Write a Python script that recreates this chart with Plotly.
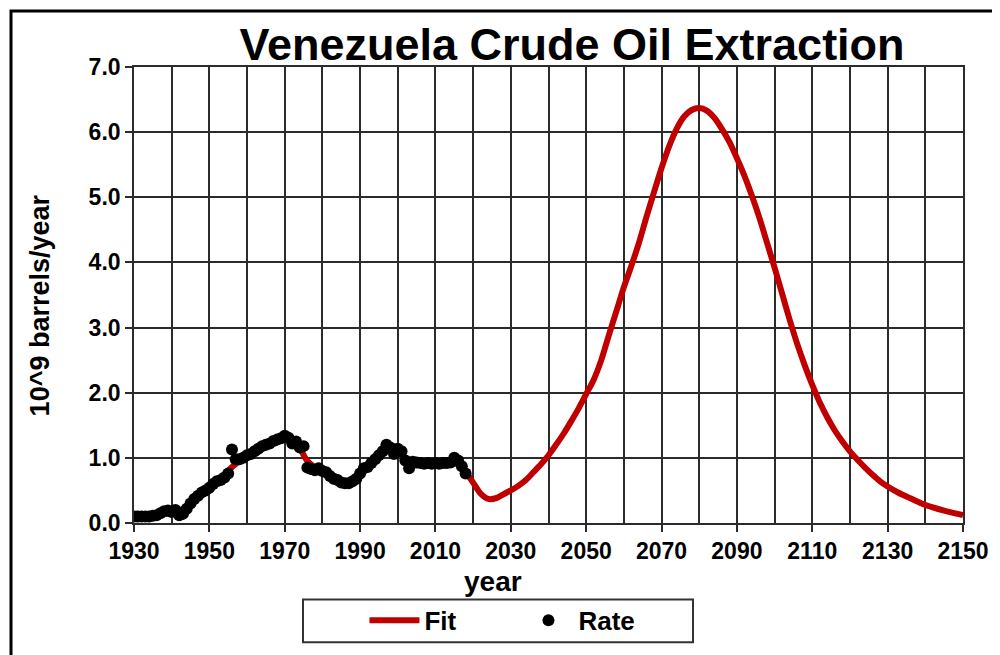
import plotly.graph_objects as go

# Observed extraction rate (10^9 barrels/year)
rate_years = list(range(1930, 2019))
rate_values = [
    0.10, 0.10, 0.10, 0.10, 0.10, 0.11, 0.12, 0.15, 0.18, 0.19,  # 1930-1939
    0.17, 0.20, 0.12, 0.14, 0.22, 0.30, 0.37, 0.42, 0.47, 0.50,  # 1940-1949
    0.54, 0.60, 0.64, 0.66, 0.70, 0.76, 1.13, 0.98, 0.98, 1.00,  # 1950-1959
    1.04, 1.06, 1.10, 1.14, 1.18, 1.20, 1.22, 1.26, 1.28, 1.30,  # 1960-1969
    1.34, 1.31, 1.22, 1.25, 1.16, 1.18, 0.85, 0.83, 0.81, 0.84,  # 1970-1979
    0.80, 0.78, 0.72, 0.68, 0.66, 0.62, 0.61, 0.61, 0.64, 0.68,  # 1980-1989
    0.76, 0.84, 0.86, 0.92, 0.98, 1.04, 1.10, 1.20, 1.16, 1.06,  # 1990-1999
    1.14, 1.10, 0.96, 0.84, 0.94, 0.93, 0.92, 0.91, 0.92, 0.91,  # 2000-2009
    0.92, 0.91, 0.92, 0.92, 0.93, 1.00, 0.96, 0.87, 0.76,        # 2010-2018
]

# Fitted curve (10^9 barrels/year)
fit_years = [
    1930, 1935, 1940, 1944, 1948, 1952, 1956, 1960, 1965, 1970,
    1973, 1976, 1979, 1983, 1987, 1990, 1993, 1997, 2000, 2003,
    2008, 2013, 2016, 2018, 2020, 2022, 2024, 2026, 2028, 2030,
    2032, 2034, 2036, 2038, 2040, 2042, 2044, 2046, 2048, 2050,
    2052, 2054, 2056, 2058, 2060, 2062, 2064, 2066, 2068, 2070,
    2072, 2074, 2076, 2078, 2080, 2082, 2084, 2086, 2088, 2090,
    2092, 2094, 2096, 2098, 2100, 2102, 2104, 2106, 2108, 2110,
    2112, 2114, 2116, 2118, 2120, 2122, 2124, 2126, 2128, 2130,
    2133, 2136, 2139, 2142, 2145, 2150,
]
fit_values = [
    0.08, 0.11, 0.16, 0.24, 0.44, 0.62, 0.86, 1.03, 1.20, 1.32,
    1.24, 0.95, 0.82, 0.70, 0.62, 0.72, 0.95, 1.12, 1.08, 0.95,
    0.92, 0.93, 0.90, 0.78, 0.62, 0.45, 0.37, 0.38, 0.44, 0.50,
    0.57, 0.66, 0.78, 0.90, 1.04, 1.20, 1.37, 1.56, 1.76, 1.98,
    2.20, 2.50, 2.88, 3.25, 3.62, 3.95, 4.30, 4.70, 5.08, 5.45,
    5.78, 6.05, 6.24, 6.34, 6.37, 6.33, 6.22, 6.05, 5.85, 5.60,
    5.33, 5.02, 4.68, 4.30, 3.92, 3.52, 3.12, 2.75, 2.42, 2.12,
    1.85, 1.62, 1.42, 1.25, 1.10, 0.97, 0.85, 0.74, 0.64, 0.56,
    0.46, 0.38, 0.30, 0.24, 0.19, 0.12,
]

x_ticks = list(range(1930, 2151, 20))
y_ticks = [0, 1, 2, 3, 4, 5, 6, 7]

FONT = "Liberation Sans, Arial, sans-serif"
GRID = "#2b2b2b"

fig = go.Figure()
fig.add_trace(go.Scatter(
    x=fit_years, y=fit_values, mode="lines", name="Fit",
    line=dict(color="#C00000", width=6, shape="spline", smoothing=0.8),
))
fig.add_trace(go.Scatter(
    x=rate_years, y=rate_values, mode="markers", name="Rate",
    marker=dict(color="black", size=12),
))

fig.update_layout(
    width=1000, height=655,
    margin=dict(l=126, r=45, t=59, b=140),
    paper_bgcolor="white", plot_bgcolor="white",
    font=dict(family=FONT, color="black"),
    title=dict(
        text="Venezuela Crude Oil Extraction",
        font=dict(family=FONT, size=45, color="black", weight="bold"),
        x=0.564, xanchor="center", xref="container",
        y=1 - 36 / 655, yanchor="middle", yref="container",
    ),
    showlegend=True,
    legend=dict(
        orientation="h", x=0.278, xanchor="left", y=-0.2136, yanchor="middle",
        entrywidth=89, entrywidthmode="pixels",
        font=dict(family=FONT, size=26, color="black", weight="bold"),
        bgcolor="rgba(0,0,0,0)", borderwidth=0,
        itemwidth=50,
    ),
)

fig.update_xaxes(
    range=[1930, 2150], tickvals=x_ticks,
    tickfont=dict(family=FONT, size=23, color="black", weight="bold"),
    ticks="outside", ticklen=7, tickcolor=GRID, tickwidth=1.5,
    showgrid=True, gridcolor=GRID, gridwidth=1.6,
    minor=dict(dtick=10, tick0=1930, showgrid=True, gridcolor=GRID, gridwidth=1.6, ticks=""),
    showline=True, linecolor=GRID, linewidth=1.6, mirror=True,
    zeroline=False,
)
fig.update_yaxes(
    range=[0, 7], tickvals=y_ticks, tickformat=".1f",
    tickfont=dict(family=FONT, size=23, color="black", weight="bold"),
    ticks="outside", ticklen=7, tickcolor=GRID, tickwidth=1.5,
    showgrid=True, gridcolor=GRID, gridwidth=1.6,
    showline=True, linecolor=GRID, linewidth=1.6, mirror=True,
    zeroline=False,
)

# axis titles
fig.add_annotation(
    text="10^9 barrels/year", textangle=-90,
    x=-0.1138, y=0.4765, xref="paper", yref="paper",
    xanchor="center", yanchor="middle",
    showarrow=False, font=dict(family=FONT, size=27, color="black", weight="bold"),
)
fig.add_annotation(
    text="year", x=0.4329, y=-0.128, xref="paper", yref="paper",
    xanchor="center", yanchor="middle",
    showarrow=False, font=dict(family=FONT, size=28, color="black", weight="bold"),
)

# legend box
fig.add_shape(
    type="rect", xref="paper", yref="paper",
    x0=(303 - 134) / 829, x1=(693 - 134) / 829,
    y0=(523.5 - 643) / 456.5, y1=(523.5 - 600) / 456.5,
    line=dict(color="#333333", width=2), fillcolor="rgba(0,0,0,0)",
)
# outer chart frame
fig.add_shape(
    type="rect", xref="paper", yref="paper",
    x0=(11 - 134) / 829, x1=(1010 - 134) / 829,
    y0=(523.5 - 670) / 456.5, y1=(523.5 - 11) / 456.5,
    line=dict(color="black", width=3), fillcolor="rgba(0,0,0,0)",
    layer="below",
)

fig.write_html("out.html")
